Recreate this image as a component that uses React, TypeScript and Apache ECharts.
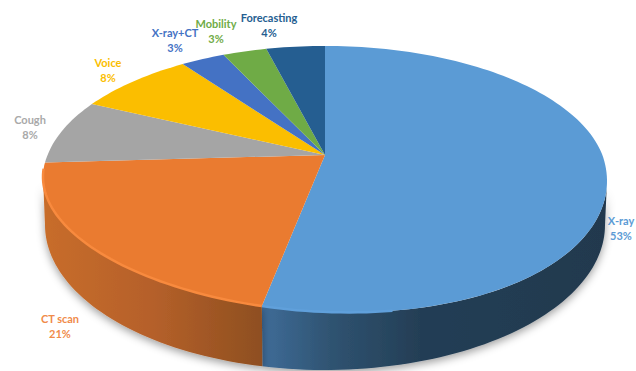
import React, { useEffect, useRef } from "react";
import * as echarts from "echarts";

const categories = ["X-ray", "CT scan", "Cough", "Voice", "X-ray+CT", "Mobility", "Forecasting"];
const shares = [53, 21, 8, 8, 3, 3, 4];

const faceColors = ["#5B9BD5", "#EA7B30", "#A5A5A5", "#FBBE00", "#4472C4", "#6FAB46", "#255E91"];
const labelColors = ["#5B9BD5", "#F08B4A", "#A9A9A9", "#FBBE00", "#4472C4", "#6FAB46", "#255E91"];
const rimColors = ["#60A0DB", "#F88A3E"];
const labelCenters = [
  [621, 228], [60, 326], [30, 127], [108, 70], [175, 40], [216, 31], [269, 25],
];
const wallStops = [
  [
    [0, "#3F6C98"], [0.2, "#2F5371"], [0.46, "#243E55"], [1, "#21394E"],
  ],
  [
    [0, "#C86D2B"], [0.5, "#B5602A"], [1, "#8E4F20"],
  ],
];

const PX = 325, PY = 155, A = 277.4, H = 128.7, K = 0.18, TILT = 0.04;
const total = shares.reduce((s, v) => s + v, 0);
const starts = shares.map((_, i) => (shares.slice(0, i).reduce((s, v) => s + v, 0) / total) * Math.PI * 2);
const ends = starts.map((s, i) => s + (shares[i] / total) * Math.PI * 2);
const RIGHT = Math.PI - Math.acos(K);
const LEFT = Math.PI + Math.acos(K);

// Perspective projection of an angle on the pie's rim onto the page.
// The near half is skewed a little so the right side hangs lower than the left.
function rim(t: number): number[] {
  const u = Math.sin(t);
  const v = -Math.cos(t);
  const w = 1 - K * v;
  const x = PX + (A * u) / w;
  return [x, PY + (H * v) / w + TILT * (x - PX) * Math.max(0, v)];
}

// Point on the lower edge of the side wall, under a rim point.
function under(p: number[]): number[] {
  const x = PX + ((p[0] - PX) * 280) / 282;
  const d = Math.min(1, Math.abs(x - PX) / 280);
  return [x, 225 + 145 * Math.sqrt(1 - d * d)];
}

function sweep(a: number, b: number): number[] {
  const n = Math.max(2, Math.ceil(((b - a) / (Math.PI * 2)) * 240));
  return Array.from({ length: n + 1 }, (_, i) => a + ((b - a) * i) / n);
}

function renderWall(params: any) {
  const i = params.dataIndex;
  const a = Math.max(starts[i], RIGHT);
  const b = Math.min(ends[i], LEFT);
  if (b <= a) return { type: "group", children: [] };
  const top = sweep(a, b).map((t) => rim(t));
  const bottom = top.map(under).reverse();
  return {
    type: "polygon",
    shape: { points: top.concat(bottom) },
    style: {
      fill: {
        type: "linear", x: 0, y: 0, x2: 1, y2: 0,
        colorStops: wallStops[i].map((s) => ({ offset: s[0], color: s[1] })),
      },
      shadowBlur: 9,
      shadowColor: "rgba(0,0,0,0.38)",
      shadowOffsetY: 3,
    },
  };
}

function renderFace(params: any, api: any) {
  const i = params.dataIndex;
  const value = api.value(0);
  const arc = sweep(starts[i], ends[i]).map((t) => rim(t));
  const children: any[] = [
    {
      type: "polygon",
      shape: { points: [[PX, PY], ...arc] },
      style: { fill: faceColors[i] },
    },
  ];
  if (i < rimColors.length) {
    // A lit bevel along the near edge; on the blue slice it stays close to the front.
    const edge = arc.filter((p) => (i === 0 ? p[0] < 400 && p[1] > PY : p[1] > 168));
    children.push({
      type: "polyline",
      shape: { points: edge },
      style: { fill: "none", stroke: rimColors[i], lineWidth: 2.5 },
    });
  }
  children.push({
    type: "text",
    x: labelCenters[i][0],
    y: labelCenters[i][1],
    style: {
      text: `${categories[i]}\n${value}%`,
      fill: labelColors[i],
      font: "bold 11px Lato, sans-serif",
      lineHeight: 15,
      align: "center",
      verticalAlign: "middle",
    },
  });
  return { type: "group", children };
}

export default function App() {
  const ref = useRef<HTMLDivElement>(null);
  useEffect(() => {
    const chart = echarts.init(ref.current, null, { renderer: "svg" });
    const data = shares.map((v, i) => ({ name: categories[i], value: v }));
    chart.setOption({
      animation: false,
      backgroundColor: "#FFFFFF",
      series: [
        { type: "custom", coordinateSystem: "none", z: 1, silent: true, data, renderItem: renderWall },
        { type: "custom", coordinateSystem: "none", z: 2, silent: true, data, renderItem: renderFace },
      ],
    });
    return () => chart.dispose();
  }, []);
  return <div ref={ref} style={{ position: "fixed", left: 0, top: 0, width: 636, height: 371 }} />;
}
